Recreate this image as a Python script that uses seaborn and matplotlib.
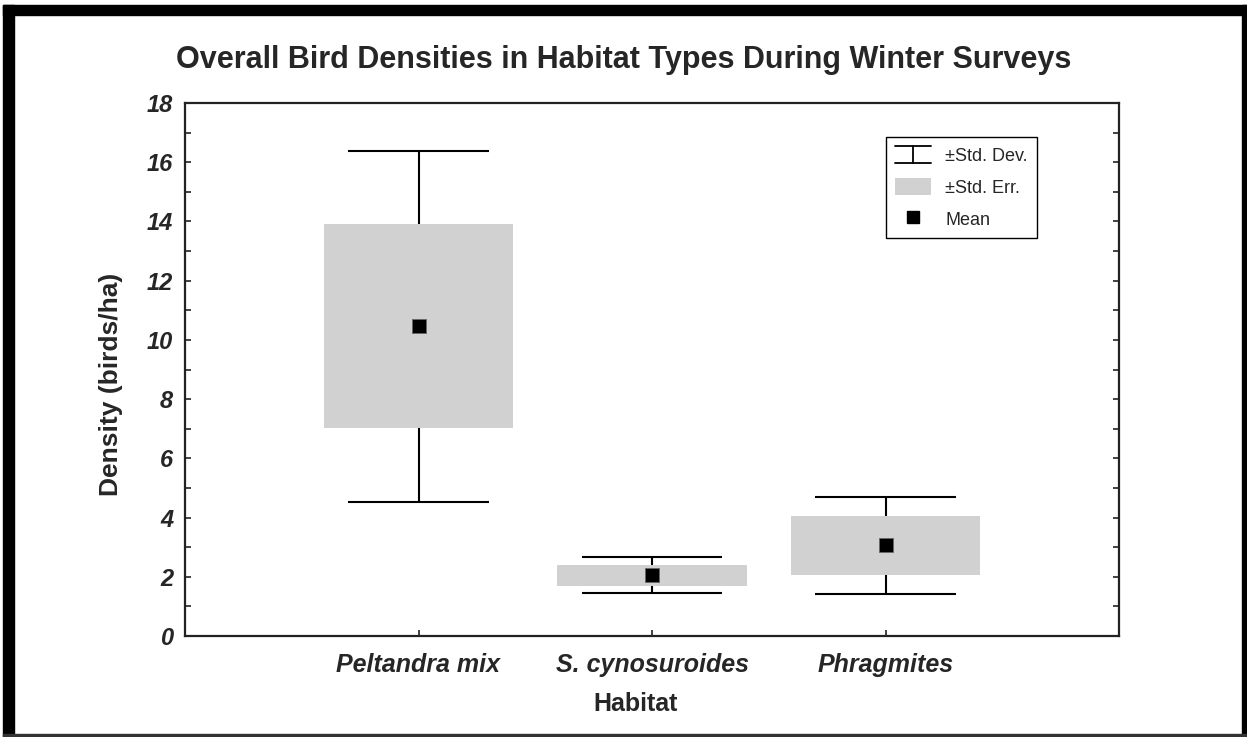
import matplotlib
matplotlib.use('Agg')
import matplotlib.pyplot as plt
from matplotlib import font_manager
from matplotlib.patches import Rectangle, Patch
from matplotlib.lines import Line2D
from matplotlib.legend_handler import HandlerBase
from matplotlib.ticker import MultipleLocator
import seaborn as sns
import pandas as pd

# ---- data ----
habitats = ["Peltandra mix", "S. cynosuroides", "Phragmites"]
means = [10.46, 2.05, 3.06]
std_dev = [5.92, 0.61, 1.64]
std_err = [3.44, 0.36, 1.00]
y_ticks = [0, 2, 4, 6, 8, 10, 12, 14, 16, 18]
legend_labels = ["\u00b1Std. Dev.", "\u00b1Std. Err.", "Mean"]

title = "Overall Bird Densities in Habitat Types During Winter Surveys"
x_label = "Habitat"
y_label = "Density (birds/ha)"

sns.set_theme(style="white")
names = {f.name for f in font_manager.fontManager.ttflist}
narrow = "Liberation Sans Narrow" if "Liberation Sans Narrow" in names else "Liberation Sans"
plt.rcParams["font.family"] = [narrow, "DejaVu Sans"]

W, H = 1247, 737
fig = plt.figure(figsize=(W / 100, H / 100), dpi=100)
fig.patch.set_facecolor("white")

# frame around the figure
def px_rect(x0, y0, x1, y1, color):
    fig.patches.append(Rectangle((x0 / W, 1 - y1 / H), (x1 - x0) / W, (y1 - y0) / H,
                                 transform=fig.transFigure, color=color, zorder=10))

px_rect(3, 5, 14, 737, "black")
px_rect(3, 5, 1247, 15, "black")
px_rect(1242, 5, 1247, 737, "black")
px_rect(3, 734, 1247, 736, "#333333")

left, right, top, bottom = 185, 1119, 103, 636
ax = fig.add_axes([left / W, 1 - bottom / H, (right - left) / W, (bottom - top) / H])

df = pd.DataFrame({"habitat": habitats, "x": [1, 2, 3], "mean": means,
                   "sd": std_dev, "se": std_err})
xs = df["x"]
lo_sd = df["mean"] - df["sd"]
hi_sd = df["mean"] + df["sd"]

ax.vlines(xs, lo_sd, hi_sd, color="black", lw=1.5, zorder=1)
ax.hlines(hi_sd, xs - 0.30, xs + 0.30, color="black", lw=1.5, zorder=1)
ax.hlines(lo_sd, xs - 0.30, xs + 0.30, color="black", lw=1.5, zorder=1)
ax.bar(xs, 2 * df["se"], bottom=df["mean"] - df["se"], width=0.81,
       color="#d1d1d1", edgecolor="none", zorder=2)
sns.scatterplot(data=df, x="x", y="mean", marker="s", s=92, color="black",
                edgecolor="#666666", linewidth=0.6, zorder=3, ax=ax, legend=False)

ax.set_xlim(0, 4)
ax.set_ylim(0, 18)
ax.set_xticks(xs)
ax.set_xticklabels(habitats, fontsize=18, fontweight="bold", style="italic")
ax.set_yticks(y_ticks)
ax.set_yticklabels([str(v) for v in y_ticks], fontsize=17, fontweight="bold", style="italic")
ax.yaxis.set_minor_locator(MultipleLocator(1))
ax.tick_params(axis="y", which="both", left=True, right=True, direction="in",
               length=4, width=1.2, color="#222222", pad=8.5)
ax.tick_params(axis="x", which="both", bottom=True, top=False, direction="in",
               length=4, width=1.2, color="#222222", pad=12)
for s in ax.spines.values():
    s.set_visible(True)
    s.set_linewidth(1.6)
    s.set_color("#222222")

ax.set_xlabel(x_label, fontsize=18, fontweight="bold")
ax.xaxis.set_label_coords((636 - left) / (right - left), -(711 - bottom) / (bottom - top))
ax.xaxis.label.set_va("baseline")
ax.set_ylabel(y_label, fontsize=19, fontweight="bold")
ax.yaxis.set_label_coords(-(185 - 123) / (right - left), (bottom - 384) / (bottom - top))

fig.text(0.5, 1 - 68 / H, title, ha="center", va="baseline", fontsize=22,
         fontweight="bold")


class SDHandle:
    pass


class SDHandler(HandlerBase):
    def create_artists(self, legend, orig_handle, xdescent, ydescent, width,
                       height, fontsize, trans):
        x0, x1 = -xdescent, -xdescent + width
        y0, y1 = -ydescent, -ydescent + height
        xm = (x0 + x1) / 2
        arts = [Line2D([x0, x1], [y1, y1]), Line2D([x0, x1], [y0, y0]),
                Line2D([xm, xm], [y0, y1])]
        for a in arts:
            a.set_color("black")
            a.set_linewidth(1.3)
            a.set_transform(trans)
        return arts


handles = [SDHandle(), Patch(facecolor="#d1d1d1", edgecolor="none"),
           Line2D([], [], marker="s", linestyle="none", markersize=9,
                  color="black")]
leg = ax.legend(handles, legend_labels, handler_map={SDHandle: SDHandler()},
                loc="upper right", bbox_to_anchor=((1037 - left) / (right - left),
                                                   (bottom - 137) / (bottom - top)),
                borderaxespad=0, fontsize=13, frameon=True, fancybox=False,
                edgecolor="black", handlelength=2.0, handleheight=1.05,
                handletextpad=0.8, labelspacing=0.75, borderpad=0.5)
leg.get_frame().set_linewidth(1.0)
leg.get_frame().set_alpha(1)

fig.savefig("out.png", dpi=100, facecolor="white")
